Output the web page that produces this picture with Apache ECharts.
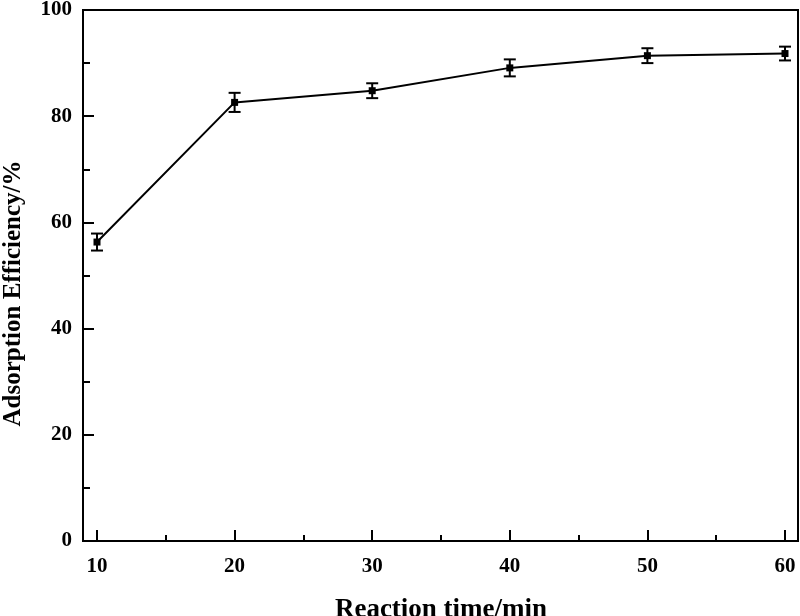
<!DOCTYPE html>
<html><head><meta charset="utf-8">
<script src="https://cdn.jsdelivr.net/npm/echarts@6/dist/echarts.min.js"></script>
<style>html,body{margin:0;padding:0;background:#fff}#c{width:800px;height:616px}</style>
</head><body><div id="c"></div>
<script>
var times = [10, 20, 30, 40, 50, 60];
var efficiency = [56.3, 82.6, 84.8, 89.1, 91.4, 91.8];
var errors = [1.6, 1.8, 1.4, 1.6, 1.4, 1.3];
var yTicks = [0, 20, 40, 60, 80, 100];

var FONT = 'Liberation Serif';
var lineData = times.map(function (t, i) { return [t, efficiency[i]]; });
var errData = times.map(function (t, i) { return [t, efficiency[i] - errors[i], efficiency[i] + errors[i]]; });

var chart = echarts.init(document.getElementById('c'), null, {renderer: 'canvas'});
chart.setOption({
  animation: false,
  backgroundColor: '#fff',
  grid: [
    {left: 83, right: 2, top: 10, bottom: 75, show: true, borderColor: '#000', borderWidth: 2,
     containLabel: false, outerBoundsMode: 'none'},
    {left: 97, right: 15, top: 10, bottom: 75, containLabel: false, outerBoundsMode: 'none'}
  ],
  xAxis: [
    {gridIndex: 0, type: 'value', min: 9, max: 61, axisLine: {show: true, lineStyle: {color: '#000', width: 2}},
     axisTick: {show: false}, axisLabel: {show: false}, splitLine: {show: false}},
    {gridIndex: 1, type: 'value', min: 10, max: 60, interval: 10,
     name: 'Reaction time/min', nameLocation: 'middle', nameGap: 56,
     nameTextStyle: {fontFamily: FONT, fontWeight: 'bold', fontSize: 27, color: '#000'},
     axisLine: {show: false},
     axisTick: {show: true, inside: true, length: 11, lineStyle: {color: '#000', width: 2}},
     minorTick: {show: true, splitNumber: 2, length: 6, lineStyle: {color: '#000', width: 2}},
     axisLabel: {margin: 15, fontFamily: FONT, fontWeight: 'bold', fontSize: 21, color: '#000'},
     splitLine: {show: false}}
  ],
  yAxis: [
    {gridIndex: 0, type: 'value', min: 0, max: 100, interval: 20,
     name: 'Adsorption Efficiency/%', nameLocation: 'middle', nameGap: 57,
     nameTextStyle: {fontFamily: FONT, fontWeight: 'bold', fontSize: 25, color: '#000',
       padding: [0, 36, 0, 0]},
     axisLine: {show: true, lineStyle: {color: '#000', width: 2}},
     axisTick: {show: true, inside: true, length: 11, lineStyle: {color: '#000', width: 2}},
     minorTick: {show: true, splitNumber: 2, length: 7, lineStyle: {color: '#000', width: 2}},
     axisLabel: {margin: 11, fontFamily: FONT, fontWeight: 'bold', fontSize: 21, color: '#000',
       formatter: function (v) { return yTicks.indexOf(v) >= 0 ? String(v) : ''; }},
     splitLine: {show: false}},
    {gridIndex: 1, type: 'value', min: 0, max: 100, show: false, splitLine: {show: false}}
  ],
  series: [
    {type: 'line', xAxisIndex: 1, yAxisIndex: 1, data: lineData,
     symbol: 'rect', symbolSize: 7, lineStyle: {color: '#000', width: 2},
     itemStyle: {color: '#000'}},
    {type: 'custom', xAxisIndex: 1, yAxisIndex: 1, data: errData,
     renderItem: function (params, api) {
       var x = api.value(0);
       var lo = api.coord([x, api.value(1)]);
       var hi = api.coord([x, api.value(2)]);
       var w = 6;
       var st = {stroke: '#000', lineWidth: 2};
       return {type: 'group', children: [
         {type: 'line', shape: {x1: lo[0], y1: lo[1], x2: hi[0], y2: hi[1]}, style: st},
         {type: 'line', shape: {x1: lo[0] - w, y1: lo[1], x2: lo[0] + w, y2: lo[1]}, style: st},
         {type: 'line', shape: {x1: hi[0] - w, y1: hi[1], x2: hi[0] + w, y2: hi[1]}, style: st}
       ]};
     },
     z: 3}
  ]
});
</script></body></html>
